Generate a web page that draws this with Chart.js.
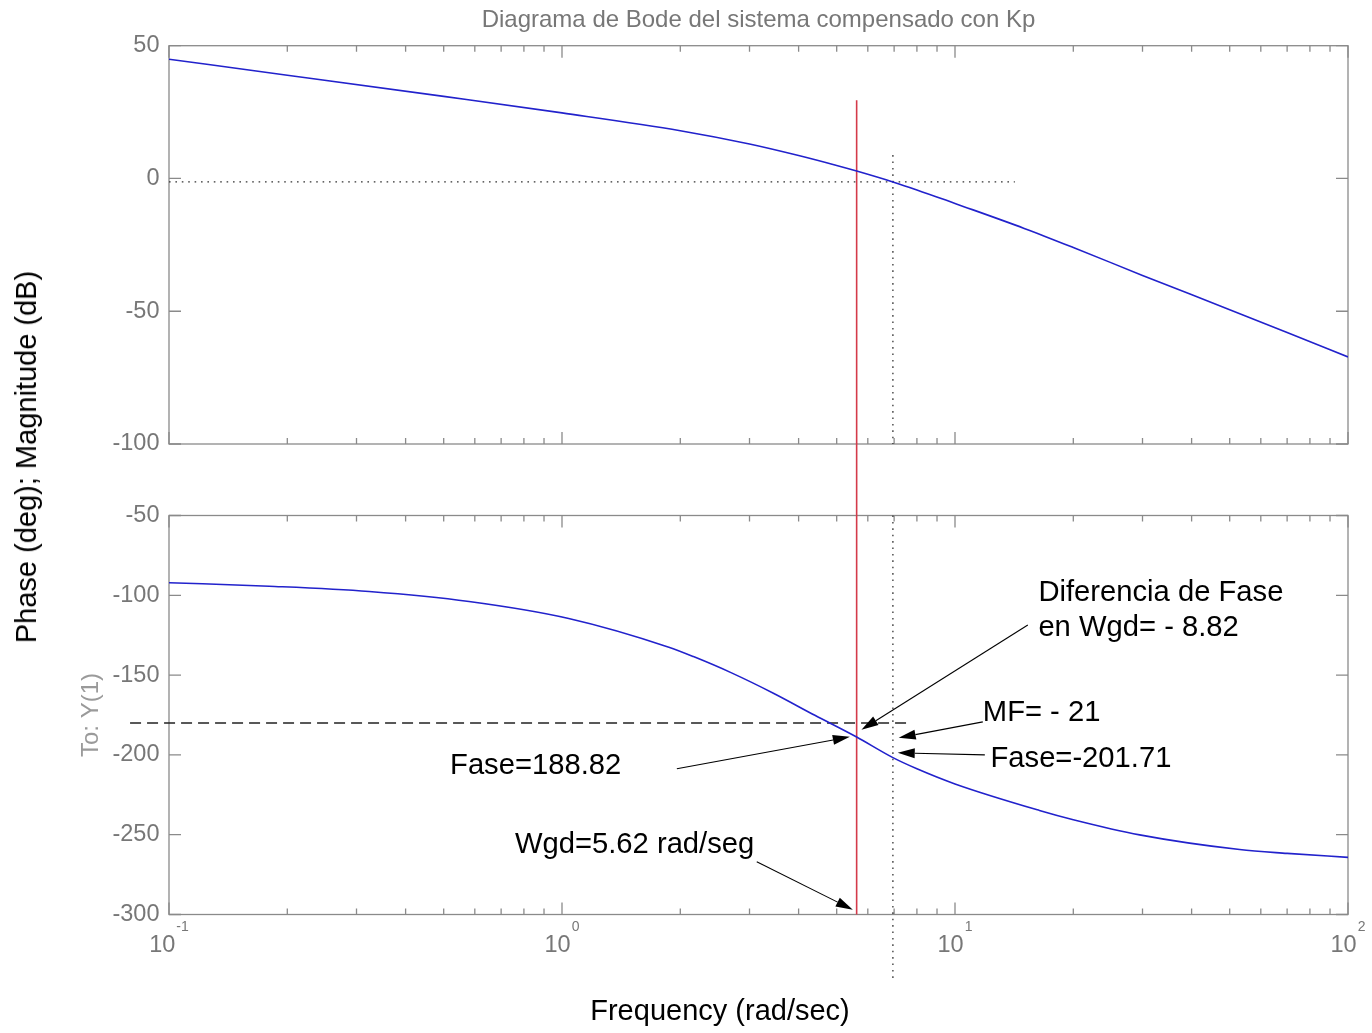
<!DOCTYPE html>
<html>
<head>
<meta charset="utf-8">
<title>Diagrama de Bode del sistema compensado con Kp</title>
<script src="https://cdn.jsdelivr.net/npm/chart.js@4.4.1/dist/chart.umd.min.js"></script>
<style>
  html, body { margin: 0; padding: 0; background: #fff; }
  #wrap { position: relative; width: 1372px; height: 1033px; overflow: hidden; background: #fff; }
  #wrap canvas { position: absolute; left: 0; top: 0; }
  .lbl { position: absolute; font-family: "Liberation Sans", Arial, sans-serif; font-size: 29px;
         line-height: 1; color: #000; white-space: nowrap; }
  #ylab { left: 12px; top: 457px; transform-origin: 0 0; transform: rotate(-90deg) translateX(-50%); }
  #xlab { left: 720px; top: 996px; transform: translateX(-50%); }
</style>
</head>
<body>
<div id="wrap">
  <canvas id="mag" width="1372" height="1033"></canvas>
  <canvas id="phase" width="1372" height="1033"></canvas>
  <div class="lbl" id="ylab">Phase (deg); Magnitude (dB)</div>
  <div class="lbl" id="xlab">Frequency (rad/sec)</div>
</div>
<script>
// ---- frequency response of the compensated loop ----
const magFreq  = [0.1, 0.2, 0.5, 1, 2, 3, 4, 5, 5.62, 6.95, 8, 10, 15, 20, 30, 50, 70, 100];
const magDb    = [44.9, 38.9, 30.9, 24.7, 18.0, 13.0, 8.65, 4.9, 2.8, -1.3, -4.3, -9.4, -18.8, -26.0, -36.5, -49.4, -58.0, -67.2];

const phaseFreq = [0.1, 0.18, 0.323, 0.58, 1.04, 1.87, 2.16, 2.7, 3.46, 4.4, 5.62, 6.95, 8, 10, 16.4, 20, 29.5, 53, 70, 100];
const phaseDeg  = [-92.1, -94.3, -97.6, -103.85, -114.5, -132.5, -138.4, -148.6, -161.5, -175.2, -188.82, -201.71,
                   -208.7, -218.2, -234.8, -240.6, -250.1, -259.3, -261.7, -264.2];

// ---- axis ticks ----
const decadeTicks = [0.1, 1, 10, 100];
const magRange    = [-100, 50];
const phaseRange  = [-300, -50];
const yStep       = 50;

// ---- reference markers ----
const wgd       = 5.62;    // rad/seg, red marker
const wCross    = 6.95;    // rad/sec, dotted marker
const refDb     = -1.3;    // dotted magnitude reference
const refPhase  = -180;    // dashed phase reference

// ---- notes on the phase plot (frequency, phase) ----
const notes = [
  { text: 'Diferencia de Fase', at: [16.3, -103.5] },
  { text: 'en Wgd= - 8.82',     at: [16.3, -125.4] },
  { text: 'MF= - 21',           at: [11.77, -178.7] },
  { text: 'Fase=-201.71',       at: [12.31, -207.5] },
  { text: 'Fase=188.82',        at: [0.519, -211.9] },
  { text: 'Wgd=5.62 rad/seg',   at: [0.759, -261.3] }
];
const arrows = [
  { from: [15.32, -118.6], to: [5.78, -184.3] },
  { from: [11.77, -179.3], to: [7.19, -189.3] },
  { from: [11.91, -200.0], to: [7.15, -198.7] },
  { from: [1.96,  -208.7], to: [5.40, -188.7] },
  { from: [3.13,  -267.0], to: [5.495, -297.0] }
];

const FONT  = "'Liberation Sans', Arial, 'DejaVu Sans', sans-serif";
const AXIS  = '#8a8a8a';
const LABEL = '#777777';
const BLUE  = '#2222cc';
const RED   = '#d43a4a';

function pairs(xs, ys) { return xs.map((v, i) => ({ x: v, y: ys[i] })); }

// 1..9 per decade, decades flagged as major
const logTicks = [];
decadeTicks.slice(0, -1).forEach(d => {
  for (let k = 1; k <= 9; k++) logTicks.push({ value: +(k * d).toPrecision(3), major: k === 1 });
});
logTicks.push({ value: decadeTicks[decadeTicks.length - 1], major: true });

// MATLAB-style box with inward ticks on all four sides
const boxTicks = {
  id: 'boxTicks',
  beforeDatasetsDraw(chart) {
    const { ctx, chartArea: a, scales: { x, y } } = chart;
    ctx.save();
    ctx.strokeStyle = AXIS;
    ctx.lineWidth = 1.3;
    ctx.strokeRect(a.left, a.top, a.right - a.left, a.bottom - a.top);
    ctx.beginPath();
    x.ticks.forEach(t => {
      const px = x.getPixelForValue(t.value);
      const len = t.major ? 12 : 6;
      ctx.moveTo(px, a.bottom); ctx.lineTo(px, a.bottom - len);
      ctx.moveTo(px, a.top);    ctx.lineTo(px, a.top + len);
    });
    y.ticks.forEach(t => {
      const py = y.getPixelForValue(t.value);
      ctx.moveTo(a.left, py);  ctx.lineTo(a.left + 12, py);
      ctx.moveTo(a.right, py); ctx.lineTo(a.right - 12, py);
    });
    ctx.stroke();
    ctx.restore();
  }
};

// decade labels written as 10 with a raised exponent
const decadeLabels = {
  id: 'decadeLabels',
  afterDraw(chart) {
    const { ctx, chartArea: a, scales: { x } } = chart;
    ctx.save();
    ctx.fillStyle = LABEL;
    ctx.textAlign = 'left';
    ctx.textBaseline = 'alphabetic';
    x.ticks.filter(t => t.major).forEach(t => {
      const px = x.getPixelForValue(t.value);
      const exp = String(Math.round(Math.log10(t.value)));
      ctx.font = '23.5px ' + FONT;
      const wb = ctx.measureText('10').width;
      ctx.font = '14px ' + FONT;
      const we = ctx.measureText(exp).width;
      const left = px - (wb + 1 + we) / 2;
      ctx.font = '23.5px ' + FONT;
      ctx.fillText('10', left, a.bottom + 37);
      ctx.font = '14px ' + FONT;
      ctx.fillText(exp, left + wb + 1, a.bottom + 16);
    });
    ctx.restore();
  }
};

// text notes and arrows on the phase plot
const phaseNotes = {
  id: 'phaseNotes',
  afterDatasetsDraw(chart) {
    const { ctx, scales: { x, y } } = chart;
    ctx.save();
    ctx.fillStyle = '#000';
    ctx.strokeStyle = '#000';
    ctx.lineWidth = 1.1;
    ctx.font = '29.2px ' + FONT;
    ctx.textAlign = 'left';
    ctx.textBaseline = 'alphabetic';
    notes.forEach(n => ctx.fillText(n.text, x.getPixelForValue(n.at[0]), y.getPixelForValue(n.at[1])));
    arrows.forEach(ar => {
      const x0 = x.getPixelForValue(ar.from[0]), y0 = y.getPixelForValue(ar.from[1]);
      const x1 = x.getPixelForValue(ar.to[0]),   y1 = y.getPixelForValue(ar.to[1]);
      const ang = Math.atan2(y1 - y0, x1 - x0);
      const L = 17, W = 5;
      const bx = x1 - L * Math.cos(ang), by = y1 - L * Math.sin(ang);
      ctx.beginPath(); ctx.moveTo(x0, y0); ctx.lineTo(bx, by); ctx.stroke();
      ctx.beginPath();
      ctx.moveTo(x1, y1);
      ctx.lineTo(bx + W * Math.sin(ang), by - W * Math.cos(ang));
      ctx.lineTo(bx - W * Math.sin(ang), by + W * Math.cos(ang));
      ctx.closePath(); ctx.fill();
    });
    ctx.restore();
  }
};

function xScale(height) {
  return {
    type: 'logarithmic',
    min: decadeTicks[0],
    max: decadeTicks[decadeTicks.length - 1],
    grid: { display: false, drawTicks: false },
    border: { display: false },
    ticks: { display: false },
    afterBuildTicks: s => { s.ticks = logTicks.map(t => ({ value: t.value, major: t.major })); },
    afterFit: s => { s.height = height; }
  };
}

function yScale(range, title) {
  return {
    min: range[0],
    max: range[1],
    grid: { display: false, drawTicks: false },
    border: { display: false },
    ticks: { stepSize: yStep, color: LABEL, padding: 9.5, font: { family: FONT, size: 23.5 } },
    title: title,
    afterFit: s => { s.width = 169; }
  };
}

const common = {
  responsive: false,
  animation: false,
  devicePixelRatio: 1,
  events: [],
  elements: { point: { radius: 0 } }
};

const baseLine = (data, color, width, dash, extra) => Object.assign({
  data: data, borderColor: color, borderWidth: width, borderDash: dash || [],
  pointRadius: 0, fill: false, tension: 0
}, extra || {});

// ---- magnitude ----
new Chart(document.getElementById('mag'), {
  type: 'line',
  data: {
    datasets: [
      baseLine(pairs(magFreq, magDb), BLUE, 1.6, null, { cubicInterpolationMode: 'monotone' }),
      baseLine([{ x: wgd, y: 29.5 }, { x: wgd, y: magRange[0] }], RED, 1.6),
      baseLine([{ x: decadeTicks[0], y: refDb }, { x: 14.2, y: refDb }], '#333', 1.3, [1.6, 4.8]),
      baseLine([{ x: wCross, y: 8.8 }, { x: wCross, y: magRange[0] }], '#333', 1.3, [1.6, 4.8])
    ]
  },
  options: Object.assign({}, common, {
    layout: { padding: { left: 0, top: 0, right: 24, bottom: 589 } },
    plugins: {
      legend: { display: false },
      tooltip: { enabled: false },
      title: {
        display: true,
        fullSize: false,
        text: 'Diagrama de Bode del sistema compensado con Kp',
        color: LABEL,
        font: { family: FONT, size: 24, weight: 'normal', lineHeight: 1.2 },
        padding: { top: 6, bottom: 10.9 }
      }
    },
    scales: { x: xScale(0), y: yScale(magRange, { display: false }) }
  }),
  plugins: [boxTicks]
});

// ---- phase ----
new Chart(document.getElementById('phase'), {
  type: 'line',
  data: {
    datasets: [
      baseLine(pairs(phaseFreq, phaseDeg), BLUE, 1.6, null, { cubicInterpolationMode: 'monotone' }),
      baseLine([{ x: wgd, y: phaseRange[0] }, { x: wgd, y: -5 }], RED, 1.6, null, { clip: false }),
      baseLine([{ x: 0.0796, y: refPhase }, { x: 7.67, y: refPhase }], '#222', 1.3, [11, 6], { clip: false }),
      baseLine([{ x: wCross, y: phaseRange[1] }, { x: wCross, y: -341 }], '#333', 1.3, [1.6, 4.8], { clip: false })
    ]
  },
  options: Object.assign({}, common, {
    layout: { padding: { left: 0, top: 515.5, right: 24, bottom: 0 } },
    plugins: { legend: { display: false }, tooltip: { enabled: false } },
    scales: {
      x: xScale(1033 - 914.5),
      y: yScale(phaseRange, {
        display: true,
        text: 'To: Y(1)',
        color: '#9a9a9a',
        font: { family: FONT, size: 24, lineHeight: 1.2 },
        padding: { top: 76.6, bottom: 0 }
      })
    }
  }),
  plugins: [boxTicks, decadeLabels, phaseNotes]
});
</script>
</body>
</html>
